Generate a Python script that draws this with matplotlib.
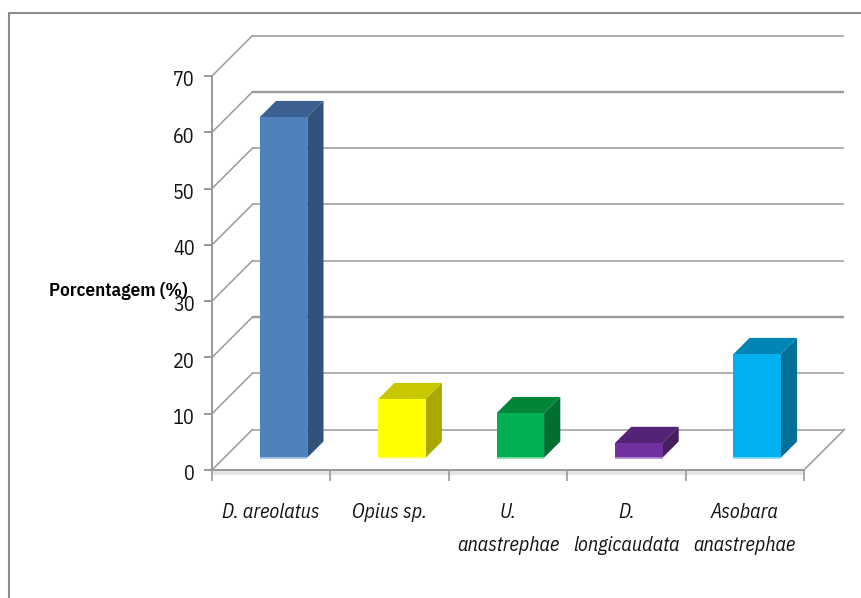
import matplotlib
matplotlib.use("Agg")
import matplotlib.pyplot as plt
from matplotlib.patches import Polygon
from matplotlib.lines import Line2D
from matplotlib.transforms import ScaledTranslation

plt.rcParams['font.family'] = ['IBM Plex Sans Condensed', 'PT Sans Narrow', 'Liberation Sans', 'DejaVu Sans']

# Parasitoid species and their share of the total (%)
species = ["D. areolatus", "Opius sp.", "U.\nanastrephae", "D.\nlongicaudata", "Asobara\nanastrephae"]
percent = [60.5, 10.4, 7.9, 2.6, 18.4]
front_colors = ["#4F81BD", "#FFFF00", "#00B050", "#7030A0", "#00B0F0"]
top_colors = ["#3C6191", "#C8C800", "#008539", "#532378", "#0085B5"]
side_colors = ["#31527A", "#A8A800", "#006F31", "#44205F", "#006F9A"]
base_colors = ["#A9C4E6", "#FFFFA0", "#80E0A8", "#B48AD2", "#80DCFF"]
y_ticks = [0, 10, 20, 30, 40, 50, 60, 70]
y_label = "Porcentagem (%)"

W, H = 862, 598
fig = plt.figure(figsize=(W / 100, H / 100), dpi=100)
fig.patch.set_facecolor("white")

# Outer chart border, open at the right and bottom edges
fig.add_artist(Line2D([9.5 / W, 9.5 / W, 1], [0, 1 - 12.5 / H, 1 - 12.5 / H],
                      color="#8C8C8C", lw=1.5, transform=fig.transFigure))

left, right, bottom_px, top_px = 212, 804, 470, 76
ax = fig.add_axes([left / W, 1 - bottom_px / H, (right - left) / W, (bottom_px - top_px) / H])
ax.set_xlim(-0.5, 4.5)
ax.set_ylim(0, 70)
ax.patch.set_alpha(0)
for s in ax.spines.values():
    s.set_visible(False)

# Oblique projection: depth direction expressed in axis units
per_x = (right - left) / 5
per_y = (bottom_px - top_px) / 70
dx, dy = 40.5 / per_x, 40.5 / per_y
x0, x1 = -0.5, 4.5
grid_c = "#9A9A9A"

# Back wall gridlines, side wall diagonals and floor
for v in y_ticks:
    lw = 1.7 if v in (20, 60) else 1.1
    ax.plot([x0, x0 + dx], [v, v + dy], color=grid_c, lw=1.1, clip_on=False, zorder=1)
    ax.plot([x0 + dx, x1 + dx], [v + dy, v + dy], color=grid_c, lw=lw,
            clip_on=False, zorder=1, solid_capstyle="butt")
ax.plot([x1, x1 + dx], [0, dy], color=grid_c, lw=1.1, clip_on=False, zorder=1)
shade = ax.transData + ScaledTranslation(0, -1.5 / 72, fig.dpi_scale_trans)
ax.plot([x0, x1], [0, 0], color="#E4E4E4", lw=3.5, clip_on=False, zorder=1.5,
        solid_capstyle="butt", transform=shade)
ax.plot([x0, x1], [0, 0], color=grid_c, lw=1.4, clip_on=False, zorder=2)
ax.plot([x0, x0], [0, 70], color=grid_c, lw=1.4, clip_on=False, zorder=2)

# Bars sit 30% of the way into the floor and are 40% of the floor deep
near, deep = 0.305, 0.40
width = 47.5 / per_x
bx, by = dx * near, dy * near
ddx, ddy = dx * deep, dy * deep
for i, val in enumerate(percent):
    xl = i + bx - width / 2
    xr = xl + width
    ax.bar(i + bx, val, width, bottom=by, color=front_colors[i], zorder=5, clip_on=False)
    ax.add_patch(Polygon([(xl, by + val), (xr, by + val), (xr + ddx, by + val + ddy), (xl + ddx, by + val + ddy)],
                         closed=True, fc=top_colors[i], ec="none", zorder=4, clip_on=False))
    ax.add_patch(Polygon([(xr, by), (xr + ddx, by + ddy), (xr + ddx, by + val + ddy), (xr, by + val)],
                         closed=True, fc=side_colors[i], ec="none", zorder=4, clip_on=False))
    ax.plot([xl, xr], [by, by], color=base_colors[i], lw=1.3, zorder=6, clip_on=False, solid_capstyle="butt")

# Axis ticks and labels
ax.set_yticks(y_ticks)
ax.set_xticks([x0 + k for k in range(6)])
ax.set_xticklabels([])
ax.tick_params(axis="y", length=6, width=1.4, color=grid_c, pad=6.5, labelsize=14.5, labelcolor="#111111")
ax.tick_params(axis="x", length=8, width=1.2, color=grid_c)
nudge = ScaledTranslation(0, -2 / 72, fig.dpi_scale_trans)
for lab in ax.get_yticklabels():
    lab.set_transform(lab.get_transform() + nudge)
for i, name in enumerate(species):
    ax.annotate(name, xy=(i, 0), xycoords=("data", "axes fraction"), xytext=(0, -33),
                textcoords="offset pixels", ha="center", va="top", style="italic",
                fontsize=14.5, color="#111111", linespacing=1.95, annotation_clip=False)

fig.text(49 / W, 1 - 291 / H, y_label, ha="left", va="center", fontsize=13.8,
         fontweight="semibold", color="#000000", zorder=10)

fig.savefig("out.png", dpi=100)
